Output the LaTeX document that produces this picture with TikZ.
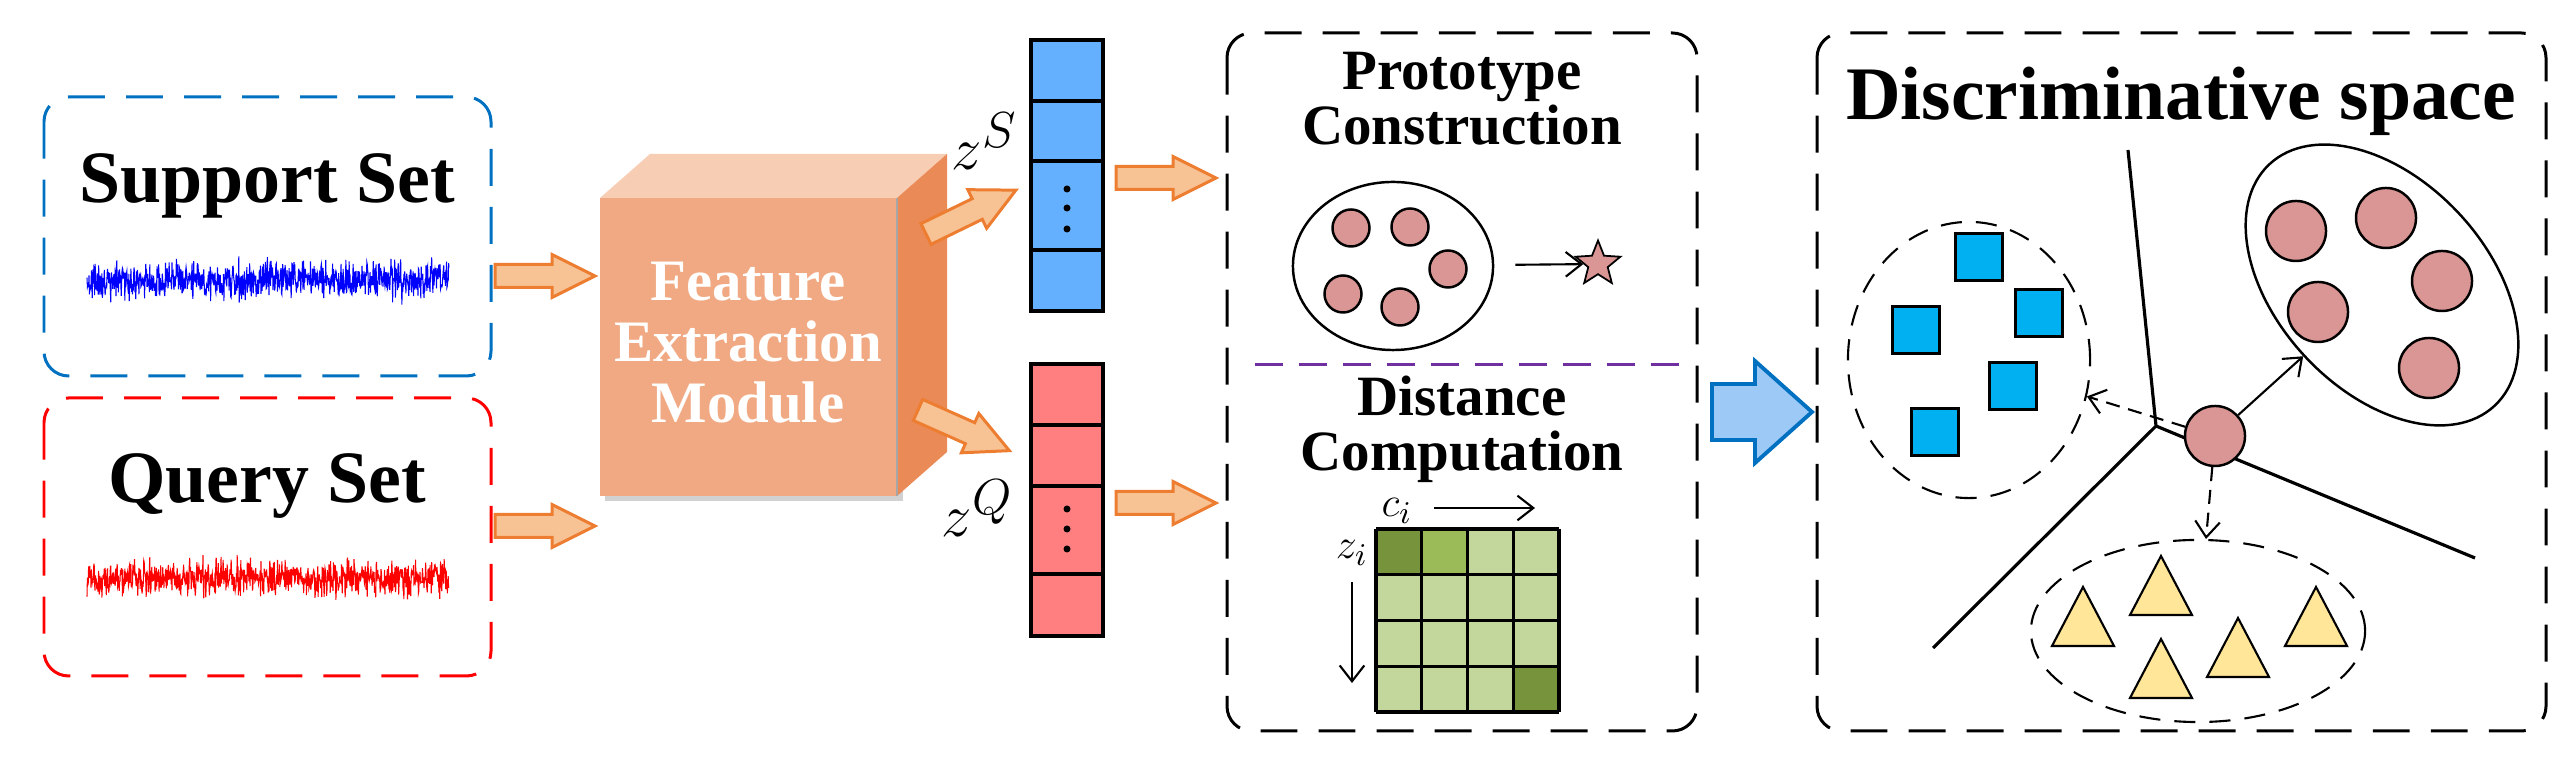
\documentclass[tikz,border=0pt]{standalone}
\usepackage{fontspec}
\setmainfont{Liberation Serif}
\usetikzlibrary{arrows.meta,shapes.geometric}

\definecolor{supblue}{HTML}{0070C0}
\definecolor{sigblue}{HTML}{0000FF}
\definecolor{qred}{HTML}{FF0000}
\definecolor{arrorange}{HTML}{ED7D31}
\definecolor{arrfill}{HTML}{F8C394}
\definecolor{cubefront}{HTML}{F1A983}
\definecolor{cubetop}{HTML}{F7CDB4}
\definecolor{cubeside}{HTML}{EA8A56}
\definecolor{vecblue}{HTML}{64B0FF}
\definecolor{vecred}{HTML}{FF7F80}
\definecolor{dotpink}{HTML}{D99694}
\definecolor{splitpurple}{HTML}{7030A0}
\definecolor{mdark}{HTML}{77933C}
\definecolor{mmid}{HTML}{9BBB59}
\definecolor{mlight}{HTML}{C3D69B}
\definecolor{bigarrfill}{HTML}{9DC9F7}
\definecolor{sqblue}{HTML}{00B0F0}
\definecolor{triyellow}{HTML}{FFE699}

\tikzset{
  setbox/.style={line width=0.85pt, dash pattern=on 10.5pt off 6pt, rounded corners=7pt},
  settitle/.style={font=\fontsize{21}{22}\selectfont\bfseries, inner sep=0pt},
  boxtitle/.style={font=\fontsize{16.2}{15.9}\selectfont\bfseries, inner sep=0pt, align=center},
  orarrow/.style={draw=arrorange, fill=arrfill, line width=0.85pt},
  vecbox/.style={draw=black, line width=1pt},
  zlabel/.style={font=\fontsize{19}{20}\selectfont, inner sep=0pt},
  axlabel/.style={font=\fontsize{12.5}{13}\selectfont, inner sep=0pt},
  thinarrow/.style={line width=0.6pt, -{Straight Barb[length=4.5pt, width=7pt]}},
  pdot/.style={circle, draw, fill=dotpink, line width=0.7pt, minimum size=0.37cm, inner sep=0pt},
  rdot/.style={circle, draw, fill=dotpink, line width=0.7pt, minimum size=0.6cm, inner sep=0pt},
  sqr/.style={rectangle, draw, fill=sqblue, line width=0.8pt, minimum size=0.47cm, inner sep=0pt},
  tri/.style={draw, fill=triyellow, line width=0.6pt},
  cluster/.style={ellipse, draw, line width=0.6pt, dash pattern=on 6pt off 4pt, inner sep=0pt},
  bline/.style={line width=0.9pt},
  gridline/.style={line width=0.9pt},
}

\newcommand{\orangearrow}[3]{%
  \draw[orarrow, shift={(#1,#2)}, rotate=#3] (0,-11.5) -- (57,-11.5) -- (57,-21.5)
    -- (100,0) -- (57,21.5) -- (57,11.5) -- (0,11.5) -- cycle;}

\begin{document}
\begin{tikzpicture}[x=0.01cm, y=-0.01cm]
  \useasboundingbox (0,0) rectangle (2566,765);

  % support and query sets
  \draw[setbox, draw=supblue] (44,97) rectangle (491,376);
  \draw[setbox, draw=qred] (44,398) rectangle (491,676);
  \node[settitle, anchor=base] (sup) at (267,203) {Support Set};
  \node[settitle, anchor=base] (qry) at (267,503) {Query Set};
  \pgfmathsetseed{7}
  \draw[sigblue, line width=0.3pt] plot[domain=87:449, samples=900] (\x,{280+9*(rand+rand+rand)});
  \draw[qred, line width=0.3pt] plot[domain=87:449, samples=900] (\x,{578+9*(rand+rand+rand)});

  \orangearrow{495}{276}{0}
  \orangearrow{495}{526}{0}

  % feature extraction cube
  \fill[black!18] (605,203) rectangle (903,501);
  \fill[cubetop] (600,198) -- (650,154) -- (947,154) -- (897,198) -- cycle;
  \fill[cubeside] (897,198) -- (947,154) -- (947,452) -- (897,496) -- cycle;
  \fill[cubefront] (600,198) rectangle (897,496);
  \draw[black!35, line width=0.4pt] (897,198) -- (897,496);
  \node[font=\fontsize{16.7}{17.35}\selectfont\bfseries, text=white, align=center,
        inner sep=0pt, anchor=base] (fem) at (748,423) {Feature\\Extraction\\Module};

  \orangearrow{926}{234}{26}
  \orangearrow{918}{410}{-24}

  % embedded vectors
  \foreach \a/\b in {40/101,101/161,161/250,250/311}
    \draw[vecbox, fill=vecblue] (1031,\a) rectangle (1103,\b);
  \foreach \a/\b in {364/425,425/486,486/574,574/636}
    \draw[vecbox, fill=vecred] (1031,\a) rectangle (1103,\b);
  \foreach \y in {189,208,229,509,529,549}
    \fill (1067,\y) circle (3.5);
  \node[zlabel, anchor=base west] (zs) at (951,170) {$z^{S}$};
  \node[zlabel, anchor=base west] (zq) at (941,537) {$z^{Q}$};

  \orangearrow{1116}{178}{0}
  \orangearrow{1116}{503}{0}

  % prototype construction and distance computation
  \draw[setbox] (1227,33) rectangle (1697,731);
  \node[boxtitle, anchor=base] (pc) at (1462,145) {Prototype\\Construction};
  \node[ellipse, draw, line width=0.7pt, minimum width=2cm, minimum height=1.68cm] (pe) at (1393,266) {};
  \foreach \x/\y [count=\n] in {1351/228, 1410/227, 1448/269, 1343/294, 1400/307}
    \node[pdot] (p\n) at (\x,\y) {};
  \node[star, star points=5, star point ratio=2.3, draw, fill=dotpink, line width=0.5pt,
        minimum size=0.47cm, inner sep=0pt] (proto) at (1598,264) {};
  \draw[thinarrow, shorten <=6pt] (pe) -- (proto);

  \draw[splitpurple, line width=0.85pt, dash pattern=on 8pt off 4.5pt] (1255,365) -- (1679,365);
  \node[boxtitle, anchor=base] (dc) at (1462,471) {Distance\\Computation};

  \fill[mlight] (1376,529) rectangle (1559,712);
  \fill[mdark] (1376,529) rectangle (1421.75,574.75);
  \fill[mmid] (1421.75,529) rectangle (1467.5,574.75);
  \fill[mdark] (1513.25,666.25) rectangle (1559,712);
  \foreach \k in {0,...,4} {
    \draw[gridline] ({1376+45.75*\k},529) -- ({1376+45.75*\k},712);
    \draw[gridline] (1376,{529+45.75*\k}) -- (1559,{529+45.75*\k});
  }
  \node[axlabel, anchor=base] (ci) at (1397,517) {$c_i$};
  \node[axlabel, anchor=base] (zi) at (1352,559) {$z_i$};
  \coordinate (cstart) at (1434,508);
  \coordinate (cend) at (1535,508);
  \coordinate (zstart) at (1352,582);
  \coordinate (zend) at (1352,683);
  \draw[thinarrow] (cstart) -- (cend);
  \draw[thinarrow] (zstart) -- (zend);

  % big arrow
  \draw[draw=supblue, fill=bigarrfill, line width=1.1pt, shift={(1712,412)}]
    (0,-28) -- (43,-28) -- (43,-51) -- (100,0) -- (43,51) -- (43,28) -- (0,28) -- cycle;

  % discriminative space
  \draw[setbox] (1817,33) rectangle (2546,731);
  \node[settitle, font=\fontsize{21.5}{22}\selectfont\bfseries, anchor=base] (ds) at (2181,120) {Discriminative space};

  \node[cluster, minimum width=2.42cm, minimum height=2.76cm] (sq) at (1969,360) {};
  \node[cluster, minimum width=3.34cm, minimum height=1.82cm] (tr) at (2198,631) {};
  \node[ellipse, draw, line width=0.7pt, minimum width=3.3cm, minimum height=2.1cm,
        rotate=-47] (rc) at (2382,285) {};

  \foreach \x/\y [count=\n] in {1979/257, 1916/330, 2039/313, 2013/386, 1935/432}
    \node[sqr] (s\n) at (\x,\y) {};
  \foreach \x/\y [count=\n] in {2296/231, 2386/218, 2442/281, 2318/312, 2429/368}
    \node[rdot] (r\n) at (\x,\y) {};
  \foreach \x/\y in {2161/556, 2083/587, 2238/618, 2161/639, 2316/587}
    \draw[tri] (\x,\y) -- ++(-31,59) -- ++(62,0) -- cycle;

  \coordinate (jn) at (2156,426);
  \coordinate (bup) at (2128,150);
  \coordinate (bleft) at (1933,648);
  \coordinate (bright) at (2475,558);
  \draw[bline] (bup) -- (jn) -- (bleft);
  \draw[bline] (jn) -- (bright);

  \node[rdot] (qc) at (2215,436) {};
  \draw[thinarrow] (qc) -- (rc);
  \draw[thinarrow, dash pattern=on 4pt off 2.5pt] (qc) -- (sq);
  \draw[thinarrow, dash pattern=on 4pt off 2.5pt] (qc) -- (tr);
\end{tikzpicture}
\end{document}
